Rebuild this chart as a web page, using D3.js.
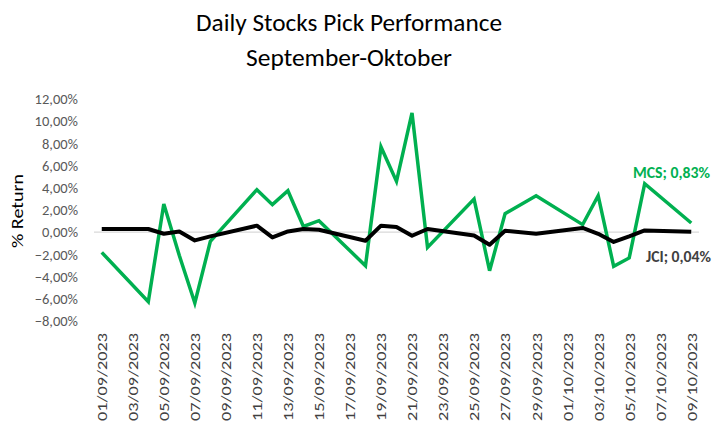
<!DOCTYPE html>
<html><head><meta charset="utf-8">
<script src="https://cdn.jsdelivr.net/npm/d3@7/dist/d3.min.js"></script>
<style>body{margin:0;background:#fff}svg{display:block}</style>
</head><body>
<svg id="c" width="712" height="428"></svg>
<script>
const dates = ["01/09/2023","04/09/2023","05/09/2023","06/09/2023","07/09/2023","08/09/2023",
"11/09/2023","12/09/2023","13/09/2023","14/09/2023","15/09/2023",
"18/09/2023","19/09/2023","20/09/2023","21/09/2023","22/09/2023",
"25/09/2023","26/09/2023","27/09/2023","29/09/2023",
"02/10/2023","03/10/2023","04/10/2023","05/10/2023","06/10/2023","09/10/2023"];
const mcs = [-1.82,-6.26,2.54,-2.1,-6.38,-0.83,
3.83,2.48,3.74,0.52,1.04,
-3.02,7.68,4.58,10.74,-1.37,
2.99,-3.47,1.67,3.29,
0.68,3.29,-3.08,-2.32,4.37,0.83];
const jci = [0.29,0.29,-0.14,0.07,-0.74,-0.38,
0.59,-0.47,0.07,0.29,0.22,
-0.77,0.59,0.47,-0.32,0.29,
-0.29,-1.13,0.14,-0.14,
0.38,-0.14,-0.88,-0.38,0.16,0.04];
const yTicks = [12,10,8,6,4,2,0,-2,-4,-6,-8];
const title = ["Daily Stocks Pick Performance","September-Oktober"];
const yTitle = "% Return";
const labelMCS = "MCS; 0,83%", labelJCI = "JCI; 0,04%";

const parse = d3.timeParse("%d/%m/%Y");
const fmt = d3.timeFormat("%d/%m/%Y");
const dd = dates.map(parse);
const svg = d3.select("#c");
const font = "Carlito, Calibri, 'Open Sans', sans-serif";

const x0 = d3.timeHour.offset(dd[0], -12), x1 = d3.timeHour.offset(dd[dd.length-1], 12);
const x = d3.scaleTime().domain([x0, x1]).range([94, 699]);
const y = d3.scaleLinear().domain([-8, 12]).range([321, 99]);

// title
svg.selectAll("text.title").data(title).join("text")
  .attr("x", 349).attr("y", (d,i)=> 31 + i*35)
  .attr("text-anchor","middle").attr("font-family", font)
  .attr("font-size", 25).attr("fill","#000")
  .attr("textLength",(d,i)=> i===0 ? 306 : 206).attr("lengthAdjust","spacingAndGlyphs")
  .text(d=>d);

// zero line
svg.append("line").attr("x1",94).attr("x2",699).attr("y1",y(0)).attr("y2",y(0))
  .attr("stroke","#d9d9d9").attr("stroke-width",1.2);

// y axis labels
const ya = svg.append("g").attr("transform","translate(78,0)")
  .call(d3.axisLeft(y).tickValues(yTicks).tickSize(0).tickPadding(0)
    .tickFormat(d => d3.format(".2f")(d).replace(".",",") + "%"));
ya.select(".domain").remove();
ya.selectAll("text").attr("font-family",font).attr("font-size",14.5).attr("fill","#595959");

// y title
svg.append("text").attr("transform","translate(23,211) rotate(-90)")
  .attr("text-anchor","middle").attr("font-family",font).attr("font-size",16).attr("fill","#000")
  .attr("textLength",74).attr("lengthAdjust","spacingAndGlyphs")
  .text(yTitle);

// x axis labels
const xTicks = d3.timeDay.range(dd[0], d3.timeDay.offset(dd[dd.length-1],1), 2);
const xa = svg.append("g").attr("transform","translate(0,331)")
  .call(d3.axisBottom(x).tickValues(xTicks).tickSize(0).tickPadding(0).tickFormat(fmt));
xa.select(".domain").remove();
xa.selectAll("text").attr("font-family",font).attr("font-size",14).attr("fill","#404040")
  .attr("text-anchor","end").attr("dy","0.35em").attr("transform","translate(0,2) rotate(-90)")
  .attr("textLength",88).attr("lengthAdjust","spacingAndGlyphs");

const line = d3.line().x((d,i)=>x(dd[i])).y(d=>y(d));
svg.append("path").datum(mcs).attr("d",line).attr("fill","none")
  .attr("stroke","#00B050").attr("stroke-width",3.5).attr("stroke-linejoin","miter");
svg.append("path").datum(jci).attr("d",line).attr("fill","none")
  .attr("stroke","#000").attr("stroke-width",4).attr("stroke-linejoin","round");

svg.append("text").attr("x",633).attr("y",178).attr("font-family",font).attr("font-weight","bold")
  .attr("font-size",15.5).attr("fill","#00B050")
  .attr("textLength",77).attr("lengthAdjust","spacingAndGlyphs").text(labelMCS);
svg.append("text").attr("x",646).attr("y",262).attr("font-family",font).attr("font-weight","bold")
  .attr("font-size",15.5).attr("fill","#404040")
  .attr("textLength",65).attr("lengthAdjust","spacingAndGlyphs").text(labelJCI);
</script>
</body></html>
